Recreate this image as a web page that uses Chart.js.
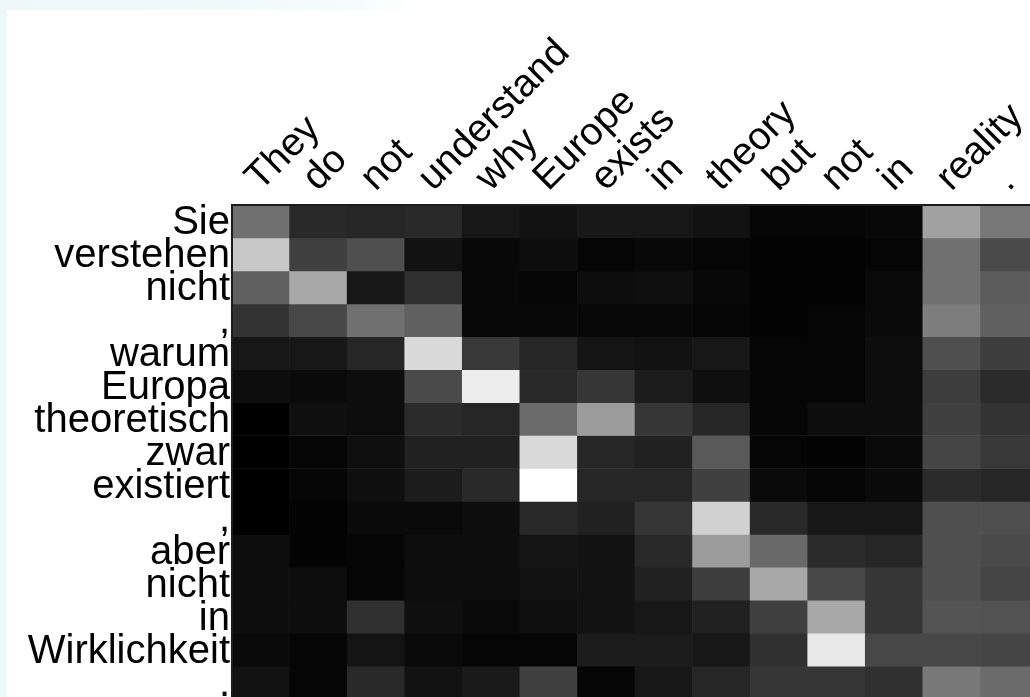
<!DOCTYPE html>
<html>
<head>
<meta charset="utf-8">
<script src="https://cdn.jsdelivr.net/npm/chart.js@4.4.1/dist/chart.umd.min.js"></script>
<style>
  html, body { margin: 0; padding: 0; overflow: hidden; background: #ffffff; }
  #wrap { position: absolute; left: 0; top: 0; width: 1030px; height: 697px; overflow: hidden; }
  canvas { display: block; }
</style>
</head>
<body>
<div id="wrap"><canvas id="attn" width="1038" height="699"></canvas></div>
<script>
// Source (English) tokens across the top, target (German) tokens down the side
const sourceTokens = ['They', 'do', 'not', 'understand', 'why', 'Europe', 'exists', 'in', 'theory', 'but', 'not', 'in', 'reality', '.'];
const targetTokens = ['Sie', 'verstehen', 'nicht', ',', 'warum', 'Europa', 'theoretisch', 'zwar', 'existiert', ',', 'aber', 'nicht', 'in', 'Wirklichkeit', '.'];

// Attention weights, one row per target token (0 = black, 1 = white)
const attSie          = [0.44, 0.16, 0.15, 0.16, 0.09, 0.07, 0.09, 0.09, 0.07, 0.02, 0.02, 0.03, 0.63, 0.47];
const attVerstehen    = [0.78, 0.25, 0.31, 0.07, 0.03, 0.05, 0.02, 0.03, 0.02, 0.01, 0.01, 0.02, 0.44, 0.29];
const attNicht        = [0.38, 0.66, 0.09, 0.19, 0.03, 0.02, 0.05, 0.06, 0.03, 0.01, 0.01, 0.04, 0.44, 0.36];
const attKomma1       = [0.20, 0.28, 0.44, 0.38, 0.03, 0.03, 0.03, 0.03, 0.02, 0.01, 0.02, 0.04, 0.49, 0.38];
const attWarum        = [0.09, 0.09, 0.15, 0.85, 0.22, 0.15, 0.08, 0.07, 0.09, 0.02, 0.02, 0.05, 0.31, 0.24];
const attEuropa       = [0.05, 0.04, 0.05, 0.29, 0.93, 0.16, 0.21, 0.11, 0.06, 0.02, 0.02, 0.05, 0.24, 0.17];
const attTheoretisch  = [0.00, 0.06, 0.05, 0.17, 0.15, 0.42, 0.61, 0.21, 0.15, 0.02, 0.05, 0.05, 0.25, 0.20];
const attZwar         = [0.00, 0.02, 0.06, 0.13, 0.13, 0.85, 0.15, 0.13, 0.35, 0.02, 0.01, 0.04, 0.27, 0.22];
const attExistiert    = [0.00, 0.02, 0.06, 0.11, 0.16, 1.00, 0.15, 0.15, 0.25, 0.04, 0.02, 0.04, 0.17, 0.15];
const attKomma2       = [0.00, 0.01, 0.04, 0.04, 0.05, 0.16, 0.13, 0.21, 0.82, 0.16, 0.09, 0.09, 0.31, 0.31];
const attAber         = [0.05, 0.01, 0.02, 0.05, 0.05, 0.08, 0.07, 0.16, 0.61, 0.41, 0.17, 0.15, 0.31, 0.29];
const attNicht2       = [0.05, 0.05, 0.02, 0.05, 0.05, 0.07, 0.07, 0.13, 0.24, 0.66, 0.28, 0.21, 0.31, 0.27];
const attIn           = [0.05, 0.05, 0.19, 0.06, 0.04, 0.06, 0.07, 0.09, 0.13, 0.25, 0.66, 0.21, 0.33, 0.32];
const attWirklichkeit = [0.04, 0.02, 0.08, 0.04, 0.02, 0.02, 0.11, 0.11, 0.09, 0.19, 0.91, 0.28, 0.28, 0.27];
const attPunkt        = [0.07, 0.02, 0.16, 0.07, 0.10, 0.25, 0.02, 0.09, 0.15, 0.21, 0.21, 0.19, 0.47, 0.42];

const weights = [attSie, attVerstehen, attNicht, attKomma1, attWarum, attEuropa, attTheoretisch,
                 attZwar, attExistiert, attKomma2, attAber, attNicht2, attIn, attWirklichkeit, attPunkt];

const grey = w => { const g = Math.round(w * 255); return `rgb(${g},${g},${g})`; };

// Each target row is a dataset of floating bars spanning [row, row + 1]
const datasets = targetTokens.map((tok, r) => ({
  label: tok,
  data: sourceTokens.map(() => [r, r + 1]),
  backgroundColor: weights[r].map(grey),
  borderWidth: 0,
  borderSkipped: false,
  categoryPercentage: 1,
  barPercentage: 1,
  grouped: false
}));

// Pale page margin with a white sheet behind the figure
const sheet = {
  id: 'sheet',
  beforeDraw(chart) {
    const { ctx, width, height } = chart;
    ctx.save();
    ctx.fillStyle = '#ecf7f7';
    ctx.fillRect(0, 0, width, height);
    const top = ctx.createLinearGradient(0, 0, 420, 0);
    top.addColorStop(0, '#eef8f8');
    top.addColorStop(0.8, '#f3fbfb');
    top.addColorStop(1, '#ffffff');
    ctx.fillStyle = top;
    ctx.fillRect(0, 0, width, 10);
    ctx.fillStyle = '#ffffff';
    ctx.fillRect(7, 10, width - 7, height - 10);
    ctx.restore();
  }
};

const fontFamily = '"Liberation Sans", Arial, Helvetica, sans-serif';

new Chart(document.getElementById('attn'), {
  type: 'bar',
  data: { labels: sourceTokens, datasets },
  plugins: [sheet],
  options: {
    responsive: false,
    animation: false,
    devicePixelRatio: 1,
    layout: { padding: 0 },
    plugins: { legend: { display: false }, tooltip: { enabled: false } },
    scales: {
      x: {
        type: 'category',
        position: 'top',
        offset: true,
        grid: { display: true, drawOnChartArea: false, drawTicks: false },
        border: { display: true, color: '#1c1c1c', width: 2, z: 1 },
        ticks: {
          autoSkip: false,
          minRotation: 45,
          maxRotation: 45,
          padding: 4,
          labelOffset: 25,
          color: '#000000',
          font: { family: fontFamily, size: 39 }
        },
        afterFit(s) { s.height = 205; s.paddingLeft = 0; s.paddingRight = 0; }
      },
      y: {
        type: 'linear',
        min: 0,
        max: targetTokens.length,
        reverse: true,
        grid: { display: true, drawOnChartArea: false, drawTicks: false },
        border: { display: true, color: '#1c1c1c', width: 2, z: 1 },
        afterBuildTicks(s) { s.ticks = targetTokens.map((_, i) => ({ value: i + 0.5 })); },
        ticks: {
          autoSkip: false,
          padding: 2,
          labelOffset: 2,
          color: '#000000',
          font: { family: fontFamily, size: 40 },
          callback: (v, i) => targetTokens[i]
        },
        afterFit(s) { s.width = 232; s.paddingTop = 0; s.paddingBottom = 0; }
      }
    }
  }
});
</script>
</body>
</html>
